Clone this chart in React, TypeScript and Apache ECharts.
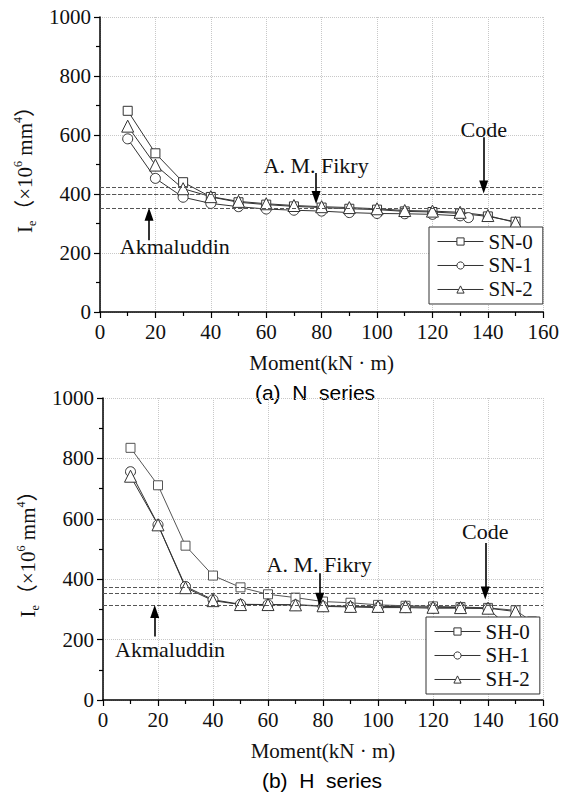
import React, { useEffect, useRef } from "react";
import * as echarts from "echarts";

// ---------- data ----------
const momentsN = [10, 20, 30, 40, 50, 60, 70, 80, 90, 100, 110, 120, 130, 140, 150];
const sn0 = [682, 538, 440, 390, 372, 364, 358, 354, 350, 347, 341, 339, 334, 324, 306];
const momentsSN1 = [10, 20, 30, 40, 50, 60, 70, 80, 90, 100, 110, 120, 130, 133];
const sn1 = [587, 453, 389, 368, 357, 349, 345, 342, 337, 334, 333, 331, 326, 320];
const sn2 = [630, 498, 418, 391, 375, 367, 361, 357, 354, 350, 344, 342, 338, 327, 303];

const momentsSH0 = [10, 20, 30, 40, 50, 60, 70, 80, 90, 100, 110, 120, 130, 140, 150, 156];
const sh0 = [835, 711, 511, 412, 373, 350, 339, 326, 322, 315, 312, 310, 308, 305, 297, 260];
const momentsH = [10, 20, 30, 40, 50, 60, 70, 80, 90, 100, 110, 120, 130, 140, 150];
const sh1 = [756, 580, 376, 332, 317, 316, 315, 310, 308, 306, 306, 304, 304, 303, 220];
const sh2 = [741, 580, 372, 329, 316, 316, 315, 312, 310, 310, 309, 307, 306, 304, 293];

// reference lines (Code, A. M. Fikry, Akmaluddin)
const refLinesN = [424, 400, 352];
const refLinesH = [372, 353, 313];

// annotations: label, label position (x, y), arrow x, arrow from y, arrow to y
const annotN = [
  { label: "A. M. Fikry", lx: 78, ly: 498, ax: 78, from: 471, to: 388 },
  { label: "Code", lx: 138.5, ly: 617, ax: 138.5, from: 592, to: 424 },
  { label: "Akmaluddin", lx: 27, ly: 221, ax: 17.7, from: 243, to: 331 },
];
const annotH = [
  { label: "A. M. Fikry", lx: 78.6, ly: 448, ax: 78.8, from: 420, to: 334 },
  { label: "Code", lx: 139, ly: 558, ax: 139, from: 520, to: 354 },
  { label: "Akmaluddin", lx: 24.4, ly: 168, ax: 18.8, from: 210, to: 293 },
];

const xTicksMax = 160;
const yTicksMax = 1000;

// ---------- styles ----------
const SERIF = "'Liberation Serif', 'DejaVu Serif', 'Noto Sans CJK SC', serif";
const SANS = "'Liberation Sans', Arial, sans-serif";
const LINE = "#333";

const pairs = (xs: number[], ys: number[]) => xs.map((x, i) => [x, ys[i]]);

function makeAxes(gridIndex: number) {
  const xAxis = {
    type: "value",
    gridIndex,
    min: 0,
    max: xTicksMax,
    interval: 20,
    name: "Moment(kN · m)",
    nameLocation: "middle",
    nameGap: 40,
    nameTextStyle: { fontFamily: SERIF, fontSize: 21, color: "#111", fontWeight: "normal" },
    axisLine: { show: true, lineStyle: { color: "#000", width: 1.5 } },
    axisTick: { show: true, inside: false, length: 6, lineStyle: { color: "#000", width: 1.2 } },
    minorTick: { show: true, splitNumber: 2, length: 4, lineStyle: { color: "#000", width: 1.2 } },
    axisLabel: { fontFamily: SERIF, fontSize: 21, color: "#111", margin: 9, formatter: (v: number) => String(v) },
    splitLine: { show: true, lineStyle: { type: "dotted", color: "#c8c8c8", width: 1 } },
  };
  const yAxis = {
    type: "value",
    gridIndex,
    min: 0,
    max: yTicksMax,
    interval: 200,
    name: "{a|I}{s|e}{a|（×10}{p|6}{a| mm}{p|4}{a|）}",
    nameLocation: "middle",
    nameGap: 62,
    nameRotate: 90,
    nameTextStyle: {
      fontFamily: SERIF,
      fontSize: 21,
      color: "#111",
      rich: {
        a: { fontFamily: SERIF, fontSize: 21, color: "#111", lineHeight: 26 },
        s: { fontFamily: SERIF, fontSize: 12, color: "#111", lineHeight: 12, verticalAlign: "bottom" },
        p: { fontFamily: SERIF, fontSize: 12, color: "#111", lineHeight: 12, verticalAlign: "top" },
      },
    },
    axisLine: { show: true, lineStyle: { color: "#000", width: 1.5 } },
    axisTick: { show: true, inside: false, length: 6, lineStyle: { color: "#000", width: 1.2 } },
    minorTick: { show: true, splitNumber: 2, length: 4, lineStyle: { color: "#000", width: 1.2 } },
    axisLabel: { fontFamily: SERIF, fontSize: 21, color: "#111", margin: 9, formatter: (v: number) => String(v) },
    splitLine: { show: true, lineStyle: { type: "dotted", color: "#c8c8c8", width: 1 } },
  };
  return { xAxis, yAxis };
}

function dataSeries(name: string, data: number[][], symbol: string, size: number, idx: number, color = LINE) {
  return {
    name,
    type: "line",
    xAxisIndex: idx,
    yAxisIndex: idx,
    data,
    symbol,
    symbolSize: size,
    showAllSymbol: true,
    color,
    lineStyle: { color, width: 1 },
    itemStyle: { color: "#fff", borderColor: color, borderWidth: 1 },
    z: 3,
  };
}

function annotationSeries(idx: number, refs: number[], annots: typeof annotN) {
  return {
    name: "annot" + idx,
    type: "line",
    xAxisIndex: idx,
    yAxisIndex: idx,
    data: [],
    silent: true,
    z: 2,
    markLine: {
      silent: true,
      animation: false,
      symbol: ["none", "none"],
      label: { show: false },
      data: [
        ...refs.map((v) => ({
          yAxis: v,
          lineStyle: { type: "dashed", color: "#555", width: 1 },
        })),
        ...annots.map((a) => [
          { coord: [a.ax, a.from], symbol: "none", lineStyle: { type: "solid", color: "#000", width: 1.6 } },
          { coord: [a.ax, a.to], symbol: "triangle", symbolSize: [9, 13] },
        ]),
      ],
    },
    markPoint: {
      silent: true,
      animation: false,
      symbol: "circle",
      symbolSize: 0,
      label: {
        show: true,
        position: "inside",
        formatter: "{b}",
        fontFamily: SERIF,
        fontSize: 22,
        color: "#111",
      },
      data: annots.map((a) => ({ name: a.label, coord: [a.lx, a.ly] })),
    },
  };
}

const legendBase = {
  orient: "vertical",
  backgroundColor: "#fff",
  borderColor: "#333",
  borderWidth: 1,
  borderRadius: 0,
  padding: [4, 10, 4, 8],
  itemWidth: 46,
  itemHeight: 9,
  itemGap: 3,
  selectedMode: false,
  itemStyle: { color: "#fff", borderColor: "#333", borderWidth: 1 },
  lineStyle: { color: "#333", width: 1 },
  textStyle: { fontFamily: SERIF, fontSize: 21, color: "#111" },
  z: 10,
};

export default function App() {
  const ref = useRef<HTMLDivElement>(null);
  useEffect(() => {
    document.body.style.margin = "0";
    if (!ref.current) return;
    const chart = echarts.init(ref.current, null, { renderer: "svg" });
    const a0 = makeAxes(0);
    const a1 = makeAxes(1);
    chart.setOption({
      animation: false,
      backgroundColor: "#fff",
      grid: [
        { left: 100, top: 17, width: 446, height: 295 },
        { left: 103, top: 398, width: 440, height: 302 },
      ],
      xAxis: [a0.xAxis, a1.xAxis],
      yAxis: [a0.yAxis, a1.yAxis],
      legend: [
        { ...legendBase, data: ["SN-0", "SN-1", "SN-2"], left: 429, top: 227 },
        { ...legendBase, data: ["SH-0", "SH-1", "SH-2"], left: 426, top: 617 },
      ],
      series: [
        annotationSeries(0, refLinesN, annotN),
        dataSeries("SN-0", pairs(momentsN, sn0), "rect", 9, 0),
        dataSeries("SN-1", pairs(momentsSN1, sn1), "circle", 10, 0),
        dataSeries("SN-2", pairs(momentsN, sn2), "triangle", 12, 0),
        annotationSeries(1, refLinesH, annotH),
        dataSeries("SH-0", pairs(momentsSH0, sh0), "rect", 9, 1, "#555"),
        dataSeries("SH-1", pairs(momentsH, sh1), "circle", 10, 1),
        dataSeries("SH-2", pairs(momentsH, sh2), "triangle", 12, 1),
      ],
      graphic: [
        {
          type: "text",
          x: 315,
          y: 392,
          style: { text: "(a)  N  series", font: `21px ${SANS}`, fill: "#000", align: "center", verticalAlign: "middle" },
        },
        {
          type: "text",
          x: 322,
          y: 780,
          style: { text: "(b)  H  series", font: `21px ${SANS}`, fill: "#000", align: "center", verticalAlign: "middle" },
        },
      ],
    });
    return () => chart.dispose();
  }, []);
  return <div ref={ref} style={{ width: 562, height: 794 }} />;
}
